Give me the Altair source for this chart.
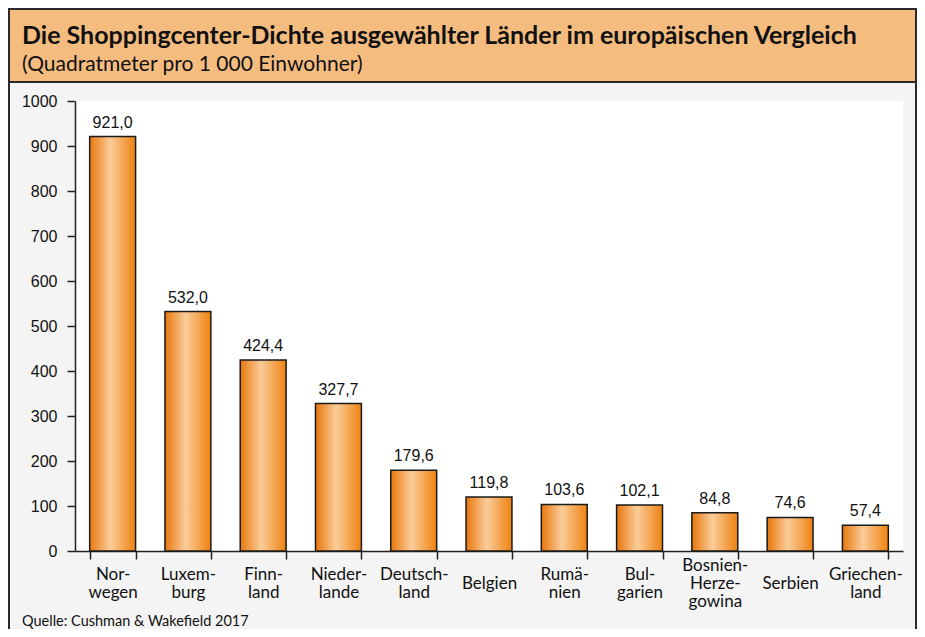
import altair as alt
import pandas as pd

countries = ["Norwegen", "Luxemburg", "Finnland", "Niederlande", "Deutschland", "Belgien",
             "Rumänien", "Bulgarien", "Bosnien-Herzegowina", "Serbien", "Griechenland"]
axis_labels = ["Nor-\nwegen", "Luxem-\nburg", "Finn-\nland", "Nieder-\nlande", "Deutsch-\nland",
               "Belgien", "Rumä-\nnien", "Bul-\ngarien", "Bosnien-\nHerze-\ngowina", "Serbien",
               "Griechen-\nland"]
values = [921.0, 532.0, 424.4, 327.7, 179.6, 119.8, 103.6, 102.1, 84.8, 74.6, 57.4]

title_text = "Die Shoppingcenter-Dichte ausgewählter Länder im europäischen Vergleich"
subtitle_text = "(Quadratmeter pro 1 000 Einwohner)"
source_text = "Quelle: Cushman & Wakefield 2017"

df = pd.DataFrame({
    "land": axis_labels,
    "wert": values,
    "label": [f"{v:.1f}".replace(".", ",") for v in values],
})
one = pd.DataFrame({"a": [0]})

W, H = 828, 450
PAD_L, PAD_T, PAD_R, PAD_B = 67, 93, 14, 78

label_pad = {
    "condition": [
        {"test": "length(split(datum.value, '\\n')) >= 3", "value": 6},
        {"test": "length(split(datum.value, '\\n')) == 1", "value": 24},
    ],
    "value": 15,
}

x_enc = alt.X("land:N", sort=None,
              scale=alt.Scale(paddingInner=0.39, paddingOuter=0.195),
              axis=alt.Axis(title=None, labelAngle=0, tickBand="extent",
                            labelExpr="split(datum.label, '\\n')",
                            labelFont="Lato", labelFontSize=17, labelColor="#111111",
                            labelLineHeight=18, labelBaseline="middle",
                            labelPadding=label_pad, tickSize=8, tickWidth=1.5, tickColor="#222222",
                            domainColor="#222222", domainWidth=1.5, labelLimit=200))
y_enc = alt.Y("wert:Q",
              scale=alt.Scale(domain=[0, 1000], nice=False),
              axis=alt.Axis(title=None, values=list(range(0, 1001, 100)), format="d",
                            labelFont="Liberation Sans", labelFontSize=16, labelColor="#111111",
                            labelPadding=10, tickSize=8, tickWidth=1.5, tickColor="#222222",
                            domainColor="#222222", domainWidth=1.5, grid=False))

gradient = alt.Gradient(
    gradient="linear", x1=0, x2=1, y1=0, y2=0,
    stops=[alt.GradientStop(offset=0, color="#E8770C"),
           alt.GradientStop(offset=0.45, color="#FACC9A"),
           alt.GradientStop(offset=1, color="#EE820F")])

bars = alt.Chart(df).mark_bar(color=gradient, stroke="#1a1a1a", strokeWidth=1.5).encode(
    x=x_enc, y=y_enc)

vals = alt.Chart(df).mark_text(font="Liberation Sans", fontSize=16, color="#111111",
                               baseline="alphabetic", dy=-9).encode(
    x=alt.X("land:N", sort=None), y="wert:Q", text="label:N")

header = alt.Chart(one).mark_rect(fill="#F5BC80", stroke="#2a2a2a", strokeWidth=2).encode(
    x=alt.value(-66), x2=alt.value(841), y=alt.value(-92), y2=alt.value(-19))
left_border = alt.Chart(one).mark_rule(color="#2a2a2a", strokeWidth=2).encode(
    x=alt.value(-66), y=alt.value(-92), y2=alt.value(540))
right_border = alt.Chart(one).mark_rule(color="#2a2a2a", strokeWidth=2).encode(
    x=alt.value(841), y=alt.value(-92), y2=alt.value(540))

title = alt.Chart(one).mark_text(text=title_text, font="Lato", fontWeight="bold", fontSize=25,
                                 align="left", baseline="alphabetic", color="#111111").encode(
    x=alt.value(-53), y=alt.value(-57))
subtitle = alt.Chart(one).mark_text(text=subtitle_text, font="Lato", fontSize=21,
                                    align="left", baseline="alphabetic", color="#111111").encode(
    x=alt.value(-53), y=alt.value(-30))
source = alt.Chart(one).mark_text(text=source_text, font="Lato", fontSize=14.5,
                                  align="left", baseline="alphabetic", color="#111111").encode(
    x=alt.value(-53), y=alt.value(525))

chart = alt.layer(header, left_border, right_border, title, subtitle, source, bars, vals).properties(
    width=W, height=H,
    autosize=alt.AutoSizeParams(type="none"),
    padding={"left": PAD_L, "top": PAD_T, "right": PAD_R, "bottom": PAD_B},
    background="#F4F4F4",
).configure_view(fill="white", stroke=None)

chart.save("out.html", embed_options={"renderer": "svg", "actions": False})
